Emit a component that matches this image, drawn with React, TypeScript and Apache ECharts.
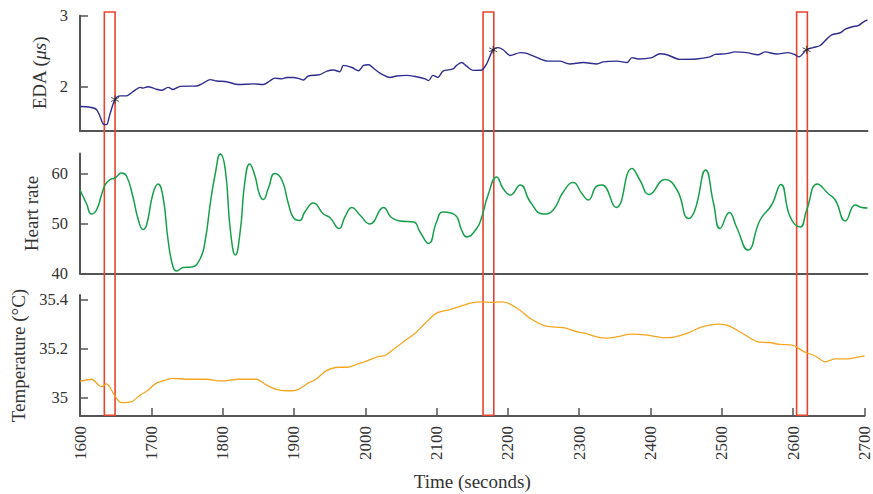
import React, { useEffect, useRef } from "react";
import * as echarts from "echarts";

const edaT = [1600,1614,1623,1628,1633,1637,1642,1649,1656,1665,1674,1684,1688,1695,1705,1714,1723,1730,1740,1763,1772,1782,1791,1805,1821,1842,1856,1865,1872,1882,1889,1898,1907,1912,1919,1935,1945,1954,1963,1968,1980,1989,1996,2003,2010,2019,2033,2042,2056,2070,2082,2087,2093,2100,2107,2121,2126,2133,2140,2149,2161,2168,2177,2184,2191,2201,2215,2224,2243,2254,2270,2284,2303,2322,2331,2350,2364,2371,2380,2399,2410,2420,2438,2461,2480,2487,2503,2515,2531,2547,2557,2573,2589,2599,2604,2615,2624,2634,2643,2650,2662,2669,2679,2687,2694,2700];
const edaV = [1.72,1.71,1.68,1.58,1.47,1.465,1.62,1.82,1.87,1.87,1.93,1.99,1.98,2.0,1.97,1.95,1.99,1.96,2.005,2.01,2.05,2.10,2.08,2.07,2.03,2.04,2.03,2.08,2.12,2.11,2.13,2.13,2.11,2.094,2.15,2.17,2.22,2.235,2.21,2.30,2.27,2.225,2.30,2.31,2.26,2.19,2.13,2.15,2.16,2.14,2.11,2.085,2.16,2.13,2.22,2.25,2.30,2.34,2.29,2.23,2.235,2.32,2.52,2.55,2.52,2.44,2.48,2.47,2.39,2.36,2.36,2.32,2.34,2.32,2.35,2.36,2.34,2.41,2.39,2.41,2.465,2.45,2.385,2.39,2.42,2.455,2.465,2.49,2.48,2.45,2.49,2.46,2.48,2.45,2.42,2.52,2.55,2.58,2.67,2.73,2.76,2.81,2.845,2.86,2.91,2.94];

const hrT = [1600,1609,1616,1623,1630,1635,1642,1649,1658,1665,1674,1681,1688,1693,1702,1709,1716,1723,1730,1735,1744,1756,1768,1775,1782,1789,1796,1803,1810,1817,1824,1830,1837,1844,1851,1856,1863,1872,1882,1891,1898,1907,1914,1926,1940,1949,1962,1970,1980,1991,2005,2024,2035,2047,2066,2075,2087,2098,2107,2124,2133,2140,2154,2161,2170,2182,2191,2201,2215,2229,2247,2261,2275,2289,2301,2310,2322,2329,2349,2371,2382,2395,2417,2434,2450,2459,2474,2485,2494,2507,2517,2533,2550,2566,2579,2592,2606,2615,2630,2645,2655,2669,2683,2692,2700];
const hrV = [56.7,54,51.9,52.7,55.7,57.7,58.8,59.1,60.1,59.5,55.3,51,48.8,49.7,56,57.9,55.3,46.7,41.3,40.5,41.2,41.3,43,46.7,54,60,63.9,60.7,48.7,43.7,48.7,58,61.9,59.7,55.7,54.8,57,60,58.7,54,51.2,50.6,52.3,54.1,51.9,51.2,49,51.3,53.2,51.7,49.9,53.2,51.2,50.5,50.3,48.3,46,50.3,52.3,51.7,48.7,47.3,49,51.2,55.7,59.3,57,55.7,57.7,54.3,51.9,52.7,56.3,58.2,56,54.7,57.5,57.7,53.2,61,58.7,55.8,58.8,56.7,51,52.7,60.7,54,49,52.2,49.3,44.7,50.7,53.7,57.8,51.3,49.3,52.7,57.9,56,54.7,50.5,53.7,53.2,53.1];

const tempT = [1600,1616,1630,1637,1649,1658,1672,1684,1693,1707,1719,1730,1749,1777,1798,1823,1847,1861,1875,1889,1898,1907,1921,1931,1945,1963,1975,1987,2000,2019,2028,2042,2056,2070,2084,2100,2117,2135,2149,2163,2177,2191,2201,2215,2233,2252,2266,2280,2294,2308,2326,2338,2354,2373,2396,2420,2433,2452,2471,2496,2510,2527,2550,2566,2582,2599,2615,2631,2645,2659,2676,2690,2700];
const tempV = [35.067,35.076,35.046,35.057,35.008,34.981,34.984,35.011,35.026,35.06,35.071,35.08,35.076,35.076,35.069,35.076,35.076,35.053,35.035,35.029,35.029,35.036,35.062,35.076,35.11,35.125,35.125,35.136,35.148,35.169,35.173,35.204,35.234,35.264,35.305,35.346,35.359,35.376,35.388,35.392,35.39,35.392,35.386,35.362,35.321,35.294,35.289,35.286,35.272,35.264,35.248,35.244,35.25,35.26,35.256,35.246,35.248,35.264,35.289,35.301,35.294,35.267,35.229,35.226,35.218,35.215,35.189,35.171,35.147,35.159,35.159,35.166,35.171];

const windowStart = [1634, 2163, 2601];
const windowEnd = [1649, 2178, 2616];
const markerT = [1649, 2177, 2615];
const markerV = [1.82, 2.52, 2.52];

const edaTicks = [2, 3];
const hrTicks = [40, 50, 60];
const tempTicks = [35, 35.2, 35.4];

const FONT = "'Liberation Serif', 'DejaVu Serif', serif";
const AXIS = "#555";
const TXT = "#333";
const NAME_SIZE = 19;

const zip = (a: number[], b: number[]) => a.map((v, i) => [v, b[i]]);

export default function App() {
  const ref = useRef<HTMLDivElement>(null);
  useEffect(() => {
    if (!ref.current) return;
    const chart = echarts.init(ref.current, null, { renderer: "svg" });
    const baseX = (i: number) => ({
      type: "value",
      gridIndex: i,
      min: 1600,
      max: 2700,
      axisLine: { show: true, onZero: false, lineStyle: { color: AXIS, width: 2 } },
      axisTick: { show: false },
      axisLabel: { show: false },
      splitLine: { show: false },
    });
    const baseY = (i: number, min: number, max: number, ticks: number[], name: string, gap: number, extra: any = {}) => ({
      type: "value",
      gridIndex: i,
      min,
      max,
      name,
      nameLocation: "middle",
      nameGap: gap,
      nameTextStyle: { fontFamily: FONT, fontSize: NAME_SIZE, color: TXT, ...extra },
      axisLine: { show: true, onZero: false, lineStyle: { color: AXIS, width: 2 } },
      axisTick: { show: true, inside: true, length: 8, customValues: ticks, lineStyle: { color: AXIS, width: 1.5 } },
      axisLabel: { show: true, customValues: ticks, margin: 12, fontFamily: FONT, fontSize: 16.5, color: TXT },
      splitLine: { show: false },
    });
    const option: any = {
      animation: false,
      textStyle: { fontFamily: FONT, color: TXT },
      grid: [
        { left: 80, right: 5.5, top: 15.7, height: 115 },
        { left: 80, right: 5.5, top: 153.5, height: 120 },
        { left: 80, right: 5.5, top: 295, height: 121 },
        { left: 80, right: 5.5, top: 12, height: 403.3 },
      ],
      xAxis: [
        baseX(0),
        baseX(1),
        {
          ...baseX(2),
          interval: 100,
          axisTick: { show: true, inside: true, length: 8, lineStyle: { color: AXIS, width: 1.5 } },
          axisLabel: {
            show: true, rotate: 90, margin: 10, fontFamily: FONT, fontSize: 17, color: TXT,
            formatter: (v: number) => String(v),
          },
          name: "Time (seconds)",
          nameLocation: "middle",
          nameGap: 56,
          nameTextStyle: { fontFamily: FONT, fontSize: NAME_SIZE, color: TXT },
        },
        { type: "value", gridIndex: 3, min: 1600, max: 2700, show: false },
      ],
      yAxis: [
        baseY(0, 1.38, 3, edaTicks, "EDA ({i|μs})", 28, {
          rich: { i: { fontStyle: "italic", fontFamily: FONT, fontSize: NAME_SIZE, color: TXT } },
        }),
        baseY(1, 40, 64, hrTicks, "Heart rate", 37),
        baseY(2, 34.926, 35.42, tempTicks, "Temperature (°C)", 52),
        { type: "value", gridIndex: 3, min: 0, max: 1, show: false },
      ],
      series: [
        {
          type: "line", xAxisIndex: 0, yAxisIndex: 0, data: zip(edaT, edaV),
          showSymbol: false, smooth: 0.3, lineStyle: { color: "#2f2c8f", width: 1.4 },
        },
        {
          type: "scatter", xAxisIndex: 0, yAxisIndex: 0, data: zip(markerT, markerV),
          symbol: "path://M0,-5L0,5M-4.33,-2.5L4.33,2.5M-4.33,2.5L4.33,-2.5",
          symbolSize: 8, z: 5,
          itemStyle: { color: "rgba(0,0,0,0)", borderColor: "#222", borderWidth: 1 },
        },
        {
          type: "line", xAxisIndex: 1, yAxisIndex: 1, data: zip(hrT, hrV),
          showSymbol: false, smooth: 0.5, lineStyle: { color: "#17a04a", width: 1.5 },
        },
        {
          type: "line", xAxisIndex: 2, yAxisIndex: 2, data: zip(tempT, tempV),
          showSymbol: false, smooth: 0.3, lineStyle: { color: "#f6a623", width: 1.3 },
        },
        {
          type: "line", xAxisIndex: 3, yAxisIndex: 3, data: [[1600, 0.5]], z: 10,
          showSymbol: false, lineStyle: { opacity: 0 },
          markArea: {
            silent: true,
            itemStyle: { color: "rgba(0,0,0,0)", borderColor: "#e8442e", borderWidth: 1.6 },
            data: windowStart.map((s, i) => [{ xAxis: s }, { xAxis: windowEnd[i] }]),
          },
        },
      ],
    };
    chart.setOption(option);
    return () => chart.dispose();
  }, []);
  return <div ref={ref} style={{ position: "absolute", left: 0, top: 0, width: 873, height: 494 }} />;
}
